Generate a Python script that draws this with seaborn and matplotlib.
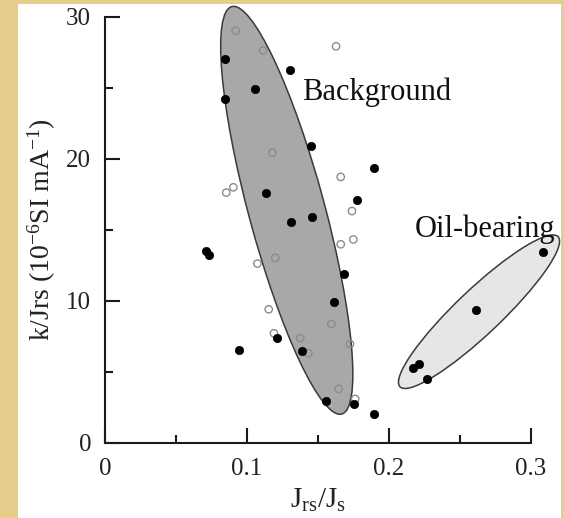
import matplotlib
matplotlib.use("Agg")
import matplotlib.pyplot as plt
from matplotlib.patches import Ellipse, Rectangle
from matplotlib.transforms import Affine2D
import seaborn as sns
import pandas as pd

# ---- data ----
filled_x = [0.0843, 0.1300, 0.1054, 0.0847, 0.1448, 0.1897, 0.1131, 0.1777, 0.1458, 0.1310,
            0.1680, 0.1613, 0.0713, 0.0732, 0.1209, 0.1387, 0.0944, 0.1559, 0.1756, 0.1892]
filled_y = [27.0, 26.2, 24.9, 24.2, 20.9, 19.3, 17.6, 17.1, 15.9, 15.5,
            11.85, 9.92, 13.5, 13.2, 7.36, 6.44, 6.49, 2.95, 2.69, 1.98]
oil_x = [0.2167, 0.2209, 0.2268, 0.2610, 0.3085]
oil_y = [5.28, 5.52, 4.50, 9.36, 13.4]
open_x = [0.0920, 0.1113, 0.1627, 0.1178, 0.0854, 0.0904, 0.1660, 0.1739, 0.1660, 0.1749,
          0.1073, 0.1199, 0.1153, 0.1594, 0.1190, 0.1375, 0.1432, 0.1725, 0.1645, 0.1762]
open_y = [29.0, 27.6, 27.9, 20.4, 17.6, 17.97, 18.7, 16.3, 13.96, 14.3,
          12.6, 13.0, 9.38, 8.35, 7.69, 7.35, 6.29, 6.94, 3.77, 3.07]

x_ticks = [0, 0.1, 0.2, 0.3]
x_tick_labels = ["0", "0.1", "0.2", "0.3"]
y_ticks = [0, 10, 20, 30]
y_tick_labels = ["0", "10", "20", "30"]

group_labels = ["Background", "Oil-bearing"]
label_x = [0.1385, 0.2183]
label_y = [24.1, 14.45]

# ellipses: centre (data), major/minor axis (pixels), angle (deg)
ell_cx = [0.1280, 0.2634]
ell_cy = [16.35, 9.21]
ell_major = [422, 218]
ell_minor = [76, 45]
ell_angle = [105.1, 43.5]
ell_face = ["#a8a8a8", "#e6e6e6"]

# ---- figure ----
sns.set_style("ticks")
plt.rcParams["font.family"] = ["Liberation Serif", "DejaVu Serif"]
plt.rcParams["mathtext.fontset"] = "custom"
plt.rcParams["mathtext.rm"] = "Liberation Serif"
plt.rcParams["mathtext.it"] = "Liberation Serif:italic"
plt.rcParams["mathtext.bf"] = "Liberation Serif:bold"

W, H = 564, 518
fig = plt.figure(figsize=(W / 100, H / 100), dpi=100, facecolor="#e6cd8c")
fig.patches.append(Rectangle((17.5 / W, 0), (560.7 - 17.5) / W, (H - 3.5) / H,
                             transform=fig.transFigure, facecolor="white",
                             edgecolor="none", zorder=-1))

ax_l, ax_r, ax_t, ax_b = 105, 531, 16.5, 442.5
ax = fig.add_axes([ax_l / W, (H - ax_b) / H, (ax_r - ax_l) / W, (ax_b - ax_t) / H])
ax.set_facecolor("none")
ax.set_xlim(0, 0.3)
ax.set_ylim(0, 30)

px_per_x = (ax_r - ax_l) / 0.3
px_per_y = (ax_b - ax_t) / 30
scale_tr = Affine2D().scale(1 / px_per_x, 1 / px_per_y) + ax.transData
for cx, cy, a, b, ang, fc in zip(ell_cx, ell_cy, ell_major, ell_minor, ell_angle, ell_face):
    e = Ellipse((cx * px_per_x, cy * px_per_y), a, b, angle=ang,
                transform=scale_tr, facecolor=fc, edgecolor="#3a3a3a",
                linewidth=1.1, zorder=1, clip_on=False)
    ax.add_patch(e)

df_f = pd.DataFrame({"x": filled_x + oil_x, "y": filled_y + oil_y})
df_o = pd.DataFrame({"x": open_x, "y": open_y})
sns.scatterplot(data=df_o, x="x", y="y", ax=ax, marker="o", s=28,
                facecolor="none", edgecolor="#8c8c8c", linewidth=1.0,
                zorder=3, clip_on=False)
sns.scatterplot(data=df_f, x="x", y="y", ax=ax, marker="o", s=36,
                color="black", edgecolor="black", linewidth=0.5,
                zorder=4, clip_on=False)

for t, x, y in zip(group_labels, label_x, label_y):
    ax.text(x, y, t, fontsize=22, ha="left", va="baseline", color="#111111",
            zorder=5, clip_on=False)

sns.despine(ax=ax)
for s in ["left", "bottom"]:
    ax.spines[s].set_linewidth(1.5)
    ax.spines[s].set_color("#1a1a1a")

ax.set_xticks(x_ticks)
ax.set_xticklabels(x_tick_labels)
ax.set_yticks(y_ticks)
ax.set_yticklabels(y_tick_labels)
ax.set_xticks([0.05, 0.15, 0.25], minor=True)
ax.set_yticks([5, 15, 25], minor=True)
ax.tick_params(which="major", direction="in", length=11, width=1.5, pad=10,
               labelsize=18, color="#1a1a1a", labelcolor="#222222")
ax.tick_params(axis="x", which="major", pad=11)
ax.tick_params(which="minor", direction="in", length=5.5, width=1.5, color="#1a1a1a")

ax.set_xlabel(r"J$_{\mathrm{rs}}$/J$_{\mathrm{s}}$", fontsize=21, labelpad=5, color="#222222")
ax.set_ylabel(r"k/Jrs (10$^{\mathrm{-6}}$SI mA$^{\mathrm{-1}}$)", fontsize=20,
              labelpad=6, color="#222222")

fig.savefig("out.png", dpi=100, facecolor=fig.get_facecolor())
